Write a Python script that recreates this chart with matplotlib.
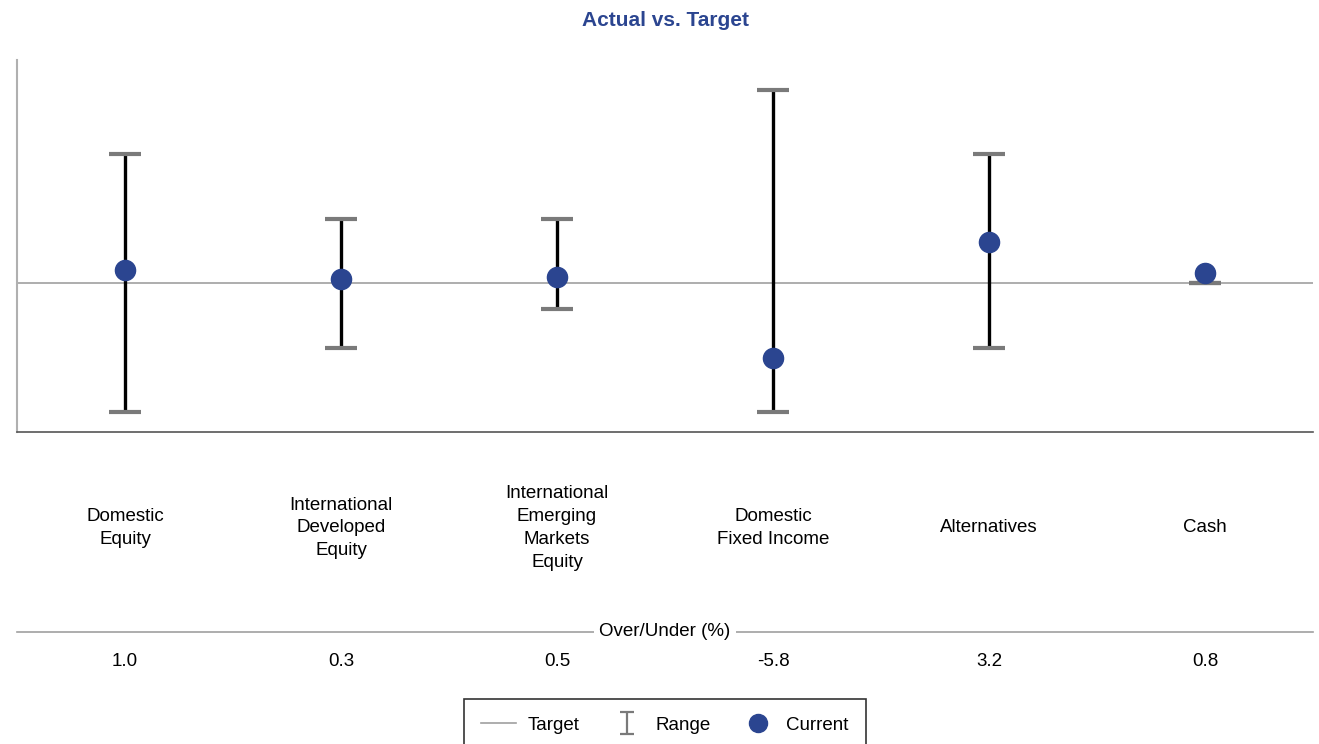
import numpy as np
import matplotlib
matplotlib.use('Agg')
import matplotlib.pyplot as plt
from matplotlib.lines import Line2D
from matplotlib.path import Path
import matplotlib.transforms as mtransforms

plt.rcParams['font.family'] = ['Liberation Sans', 'DejaVu Sans']

# datos
categorias = ['Domestic\nEquity', 'International\nDeveloped\nEquity',
              'International\nEmerging\nMarkets\nEquity', 'Domestic\nFixed Income',
              'Alternatives', 'Cash']
actual = [1.0, 0.3, 0.5, -5.8, 3.2, 0.8]
rango_max = [10, 5, 5, 15, 10, 0]
rango_min = [-10, -5, -2, -10, -5, 0]
over_under = ['1.0', '0.3', '0.5', '-5.8', '3.2', '0.8']

azul = '#2B4590'
gris = '#7A7A7A'

fig = plt.figure(figsize=(13.19, 7.44), dpi=100)
ax = fig.add_axes([17/1319, 1 - 432/744, 1296/1319, 372/744])

x = np.arange(len(categorias))
ax.axhline(0, color='#A0A0A0', lw=1.2, zorder=1)
ax.vlines(x, rango_min, rango_max, color='black', lw=2.4, zorder=2)
ax.plot(x, rango_max, ls='none', marker='_', ms=23, mew=3, color=gris, zorder=3)
ax.plot(x, rango_min, ls='none', marker='_', ms=23, mew=3, color=gris, zorder=3)
ax.plot(x, actual, ls='none', marker='o', ms=14.5, color=azul, zorder=4)

ax.set_xlim(-0.5, len(categorias) - 0.5)
ax.set_ylim(-11.55, 17.3)
ax.set_xticks([])
ax.set_yticks([])
ax.spines['top'].set_visible(False)
ax.spines['right'].set_visible(False)
ax.spines['left'].set_color('#B0B0B0')
ax.spines['left'].set_linewidth(1.5)
ax.spines['bottom'].set_color('#555555')
ax.spines['bottom'].set_linewidth(1.2)

fig.text(665/1319, 1 - 20/744, 'Actual vs. Target', ha='center', va='center',
         fontsize=15, fontweight='bold', color=azul)

trans = mtransforms.blended_transform_factory(ax.transData, fig.transFigure)
for xi, etiqueta, val in zip(x, categorias, over_under):
    ax.text(xi, 1 - 528/744, etiqueta, transform=trans, ha='center', va='center',
            fontsize=13.5, linespacing=1.45)
    ax.text(xi, 1 - 662/744, val, transform=trans, ha='center', va='center',
            fontsize=13.5)

# linea Over/Under
y_ou = 1 - 632/744
fig.add_artist(Line2D([17/1319, 1313/1319], [y_ou, y_ou], color='#A0A0A0', lw=1.2))
fig.text(665/1319, y_ou, 'Over/Under (%)', ha='center', va='center', fontsize=13.5,
         bbox=dict(facecolor='white', edgecolor='none', pad=4))

# leyenda
forma_i = Path([(-0.6, -1), (0.6, -1), (0, -1), (0, 1), (-0.6, 1), (0.6, 1)],
               [Path.MOVETO, Path.LINETO, Path.MOVETO, Path.LINETO, Path.MOVETO, Path.LINETO])
handles = [
    Line2D([], [], color='#A0A0A0', lw=1.2),
    Line2D([], [], ls='none', marker=forma_i, ms=16, mew=1.6, color=gris, fillstyle='none'),
    Line2D([], [], ls='none', marker='o', ms=13, color=azul),
]
leg = fig.legend(handles, ['Target', 'Range', 'Current'], loc='upper center',
                 bbox_to_anchor=(665/1319, 1 - 699/744), ncol=3, fontsize=13.5,
                 frameon=True, fancybox=False, edgecolor='black', borderpad=0.95,
                 borderaxespad=0, columnspacing=1.6, handlelength=1.85,
                 handletextpad=0.6)
leg.get_frame().set_linewidth(1.2)

fig.savefig('out.png', dpi=100)
